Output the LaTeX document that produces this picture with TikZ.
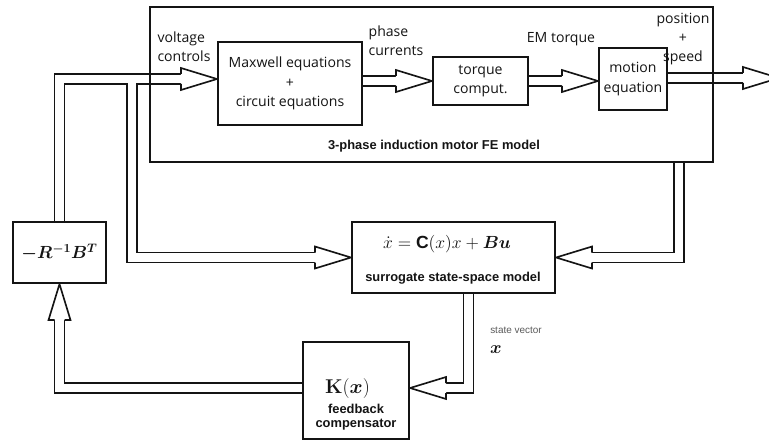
\RequirePackage{fix-cm}
\documentclass[tikz,border=0pt]{standalone}
\usepackage{amsmath}
\usepackage{bm}
\usepackage[no-math]{fontspec}
\setmainfont{Open Sans}
\newfontfamily\arialfont{Liberation Sans}
\usetikzlibrary{calc,backgrounds}
\definecolor{FEInk}{HTML}{141414}
\definecolor{FESoft}{HTML}{5A5A5A}
\tikzset{
  block/.style={draw=FEInk,line width=1.8pt,fill=white,inner sep=0pt,align=center,
                text=FEInk,font=\fontsize{12}{16.6}\selectfont},
  frame/.style={draw=FEInk,line width=1.8pt,inner sep=0pt},
  pipe/.style={draw=FEInk,line width=1.4pt,double=white,double distance=2.51mm},
  headline/.style={draw=FEInk,line width=1.4pt},
  label/.style={text=FEInk,font=\fontsize{12}{16.6}\selectfont,inner sep=0pt},
  boldlabel/.style={text=FEInk,font=\arialfont\bfseries\fontsize{11}{12.5}\selectfont,
                    inner sep=0pt,align=center},
  mathlabel/.style={text=FEInk,inner sep=0pt},
  tipR/.pic={\fill[white] (0,0) -- (-36,-11) -- (-36,11) -- cycle;
             \draw[headline] (-36,-5) -- (-36,-11) -- (0,0) -- (-36,11) -- (-36,5);},
  tipL/.pic={\fill[white] (0,0) -- (36,-11) -- (36,11) -- cycle;
             \draw[headline] (36,-5) -- (36,-11) -- (0,0) -- (36,11) -- (36,5);},
  tipU/.pic={\fill[white] (0,0) -- (-11,36) -- (11,36) -- cycle;
             \draw[headline] (-5,36) -- (-11,36) -- (0,0) -- (11,36) -- (5,36);},
}

\begin{document}
\begin{tikzpicture}[x=0.3mm,y=-0.3mm]
  \path[use as bounding box] (0,0) rectangle (769,441);
  \clip (0,0) rectangle (769,441);

  % FE model
  \node[frame,minimum width=168.9mm,minimum height=46.5mm] (fe) at (431.5,84.5) {};
  \node[block,minimum width=43.2mm,minimum height=24.9mm] (maxw) at (290,83.5)
    {Maxwell equations\\+\\circuit equations};
  \node[block,minimum width=28.5mm,minimum height=14.4mm] (torq) at (480.5,81)
    {torque\\comput.};
  \node[block,minimum width=20.4mm,minimum height=18.6mm] (moti) at (633,79)
    {motion\\equation};
  \node[label,align=left] (vcl) at (184,47) {voltage\\controls};
  \node[label,align=left] (pcl) at (396,41) {phase\\currents};
  \node[label] (eml) at (561,39) {EM torque};
  \node[label,align=center] (psl) at (683,39) {position\\+\\speed};
  \node[boldlabel] (fel) at (434,146) {3-phase induction motor FE model};

  % surrogate + feedback
  \node[block,minimum width=60.9mm,minimum height=21.3mm] (surr) at (453.5,257.5) {};
  \node[mathlabel,font=\fontsize{15}{18}\selectfont] (surreq) at (447,244)
    {$\dot{x}=\text{\arialfont\bfseries C}(x)x+\bm{B}\bm{u}$};
  \node[boldlabel] (surrtxt) at (453,278) {surrogate state-space model};

  \node[block,minimum width=31.8mm,minimum height=29.1mm] (kfb) at (356,390.5) {};
  \node[mathlabel,font=\fontsize{17}{20}\selectfont] (kfbeq) at (347.5,389)
    {$\mathbf{K}(\bm{x})$};
  \node[boldlabel] (kfbtxt) at (356,417) {feedback\\compensator};

  \node[block,minimum width=27.9mm,minimum height=18.3mm,font=\fontsize{15}{18}\selectfont]
    (rinv) at (59.5,252.5) {$\bm{-R^{-1}B^{T}}$};

  \node[text=FESoft,inner sep=0pt,font=\arialfont\fontsize{8.5}{10}\selectfont] (svl)
    at (516,330) {state vector};
  \node[mathlabel,font=\fontsize{15}{18}\selectfont] (svx) at (496,350) {$\bm{x}$};

  \coordinate (jn) at (132,79);
  \coordinate (out) at (779,78);

  \begin{scope}[on background layer]
    \draw[pipe] (rinv.north) |- ($(maxw.west|-jn)+(-36,0)$)
                (jn) |- ($(surr.west)+(-36,0)$);
    \draw[pipe] (maxw.east|-torq.west) -- ($(torq.west)+(-36,0)$);
    \draw[pipe] (torq.east) -- ($(torq.east-|moti.west)+(-36,0)$);
    \draw[pipe] (moti.east|-out) -- ($(out)+(-36,0)$);
    \draw[pipe] ($(fe.south east)+(-35,0)$) |- ($(surr.east)+(36,0)$);
    \draw[pipe] ($(surr.south)+(15,0)$) |- ($([yshift=0.75mm]kfb.east)+(36,0)$);
    \draw[pipe] ([yshift=0.75mm]kfb.west) -| ($(rinv.south)+(0,36)$);

    \pic at (maxw.west|-jn) {tipR};
    \pic at (surr.west) {tipR};
    \pic at (torq.west) {tipR};
    \pic at (torq.east-|moti.west) {tipR};
    \pic at (out) {tipR};
    \pic at (surr.east) {tipL};
    \pic at ([yshift=0.75mm]kfb.east) {tipL};
    \pic at (rinv.south) {tipU};
  \end{scope}
\end{tikzpicture}
\end{document}
